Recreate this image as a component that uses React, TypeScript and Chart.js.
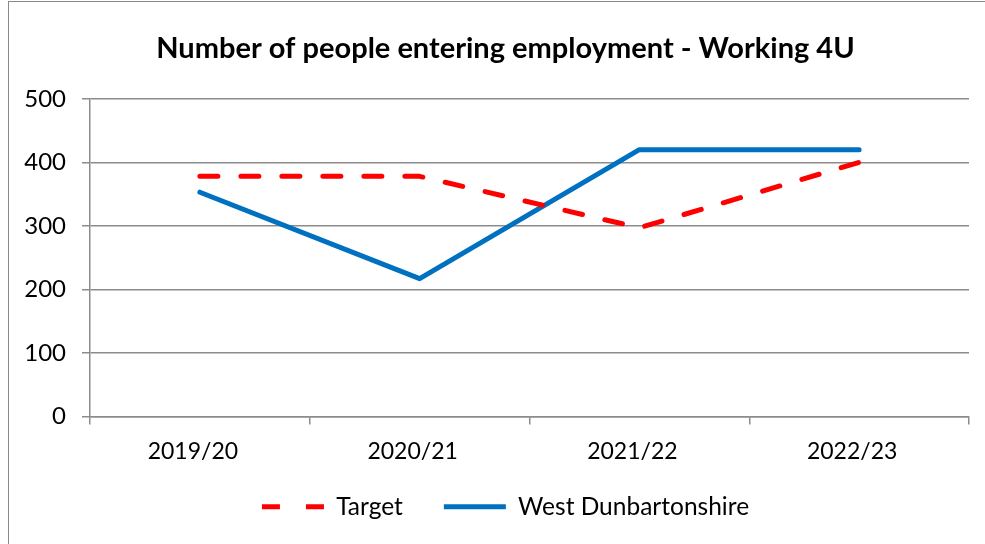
import React, { useEffect, useRef } from "react";
import { Chart, registerables } from "chart.js";

Chart.register(...registerables);

const categories = ["2019/20", "2020/21", "2021/22", "2022/23"];
const targetValues = [378, 378, 297, 400];
const westDunValues = [353, 217, 420, 420];
const yTicks = [0, 100, 200, 300, 400, 500];
const titleText = "Number of people entering employment - Working 4U";

const FONT = "Lato, 'Noto Sans', sans-serif";
const SHIFT_X = 21;
const LEGEND_DY = -11;

const shiftPlugin = {
  id: "shiftBoxes",
  beforeDraw(chart: any) {
    [chart.titleBlock, chart.legend].forEach((b: any) => {
      if (b) {
        b.left += SHIFT_X;
        b.right += SHIFT_X;
      }
    });
    if (chart.legend) {
      chart.legend.top += LEGEND_DY;
      chart.legend.bottom += LEGEND_DY;
    }
  },
  afterDraw(chart: any) {
    [chart.titleBlock, chart.legend].forEach((b: any) => {
      if (b) {
        b.left -= SHIFT_X;
        b.right -= SHIFT_X;
      }
    });
    if (chart.legend) {
      chart.legend.top -= LEGEND_DY;
      chart.legend.bottom -= LEGEND_DY;
    }
  },
};

export default function App() {
  const ref = useRef<HTMLCanvasElement>(null);
  useEffect(() => {
    if (!ref.current) return;
    const chart = new Chart(ref.current, {
      type: "line",
      data: {
        labels: categories,
        datasets: [
          {
            label: "Target",
            data: targetValues,
            borderColor: "#FF0000",
            backgroundColor: "#FF0000",
            borderWidth: 5,
            borderDash: [18, 23],
            borderCapStyle: "round",
            borderJoinStyle: "round",
            pointRadius: 0,
            tension: 0,
          },
          {
            label: "West Dunbartonshire",
            data: westDunValues,
            borderColor: "#0070C0",
            backgroundColor: "#0070C0",
            borderWidth: 5,
            borderCapStyle: "round",
            borderJoinStyle: "round",
            pointRadius: 0,
            tension: 0,
          },
        ],
      },
      options: {
        responsive: false,
        animation: false,
        layout: { padding: { left: 0, right: 16, top: 0, bottom: 0 } },
        plugins: {
          title: {
            display: true,
            text: titleText,
            color: "#000",
            font: { family: FONT, size: 29, weight: "bold", lineHeight: 1.2 },
            padding: { top: 31, bottom: 33 },
          },
          legend: {
            position: "bottom",
            labels: {
              usePointStyle: true,
              pointStyle: "line",
              pointStyleWidth: 62,
              boxHeight: 24,
              padding: 41,
              color: "#000",
              font: { family: FONT, size: 24.5 },
              generateLabels(chart: any) {
                const items = Chart.defaults.plugins.legend.labels.generateLabels(chart);
                items.forEach((it: any, i: number) => {
                  if (i === 0) it.lineDash = [18, 26];
                });
                return items;
              },
            },
          },
          tooltip: { enabled: false },
        },
        scales: {
          x: {
            offset: true,
            afterFit(scale: any) {
              scale.height = 48;
            },
            grid: {
              display: true,
              offset: true,
              drawOnChartArea: false,
              drawTicks: true,
              tickLength: 8,
              color: "#8c8c8c",
              lineWidth: 1.5,
            },
            border: { display: true, color: "#8c8c8c", width: 1.5 },
            ticks: {
              color: "#000",
              padding: 13,
              labelOffset: -7,
              maxRotation: 0,
              font: { family: FONT, size: 23 },
            },
          },
          y: {
            min: 0,
            max: 500,
            afterFit(scale: any) {
              scale.width = 90;
            },
            afterBuildTicks(scale: any) {
              scale.ticks = yTicks.map((v) => ({ value: v }));
            },
            grid: {
              color: "#8c8c8c",
              lineWidth: 1.5,
              drawTicks: true,
              tickLength: 8,
            },
            border: { display: true, color: "#8c8c8c", width: 1.5 },
            ticks: {
              color: "#000",
              padding: 16,
              font: { family: FONT, size: 24 },
            },
          },
        },
      },
      plugins: [shiftPlugin],
    });
    return () => chart.destroy();
  }, []);

  return (
    <div
      style={{
        position: "fixed",
        left: 0,
        top: 0,
        width: 985,
        height: 544,
        overflow: "hidden",
        background: "#fff",
      }}
    >
      <div
        style={{
          position: "absolute",
          left: 8,
          top: 1,
          width: 1100,
          height: 700,
          border: "1.5px solid #8a8a8a",
        }}
      />
      <canvas
        ref={ref}
        width={985}
        height={540}
        style={{ position: "absolute", left: 0, top: 0, width: 985, height: 540 }}
      />
    </div>
  );
}
